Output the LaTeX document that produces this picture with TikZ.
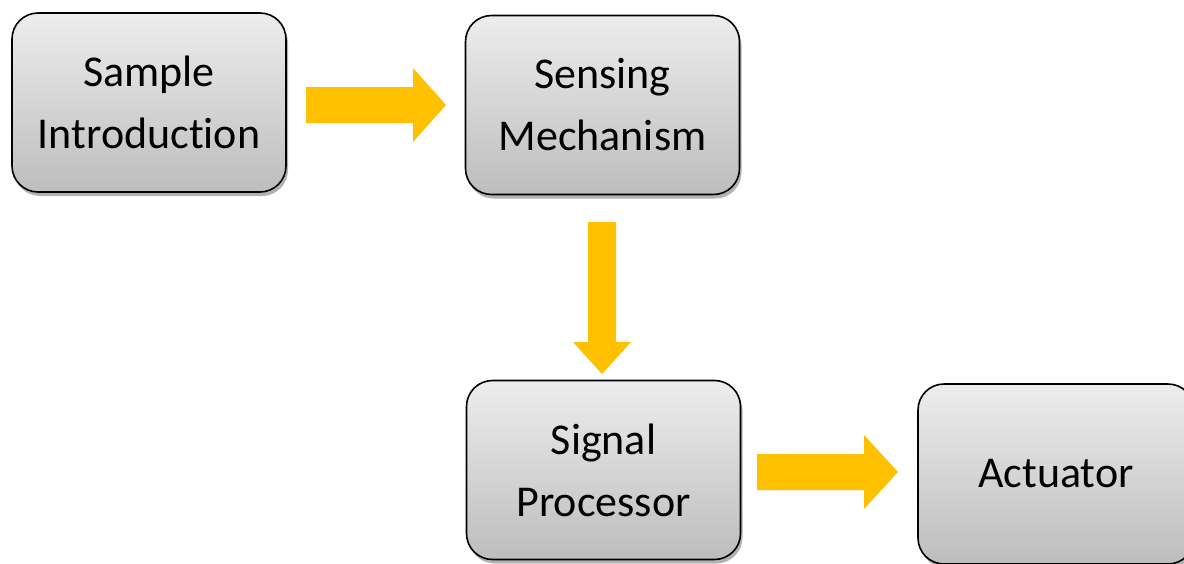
\documentclass[tikz,border=0pt]{standalone}
\usepackage{fontspec}
\setmainfont{Carlito}[Ligatures=NoCommon]
\usetikzlibrary{shadows}
\definecolor{arrowyellow}{HTML}{FFC000}
\definecolor{boxtop}{HTML}{EDEDED}
\definecolor{boxbot}{HTML}{BDBDBD}
\tikzset{
  stagebox/.style={draw=black, line width=1.6pt, rounded corners=26pt,
    top color=boxtop, bottom color=boxbot,
    minimum width=274pt, minimum height=179pt, inner sep=0pt,
    align=center, font=\fontsize{44}{62}\selectfont,
    drop shadow={shadow xshift=2pt, shadow yshift=-4pt, opacity=0.3, fill=black}},
  blockarrow/.style={fill=arrowyellow, draw=none}
}
\begin{document}
\begin{tikzpicture}[x=1pt,y=-1pt]
\useasboundingbox (0,0) rectangle (1184,563);
\node[stagebox] (sample) at (149,102.5) {Sample\\Introduction};
\node[stagebox] (sensing) at (602.5,105) {Sensing\\Mechanism};
\node[stagebox] (signal) at (603.5,470) {Signal\\Processor};
\node[stagebox, minimum width=276pt, minimum height=180pt] (act) at (1056,474) {Actuator};
% arrow sample -> sensing
\fill[blockarrow] (306,87) -- (413,87) -- (413,68) -- (446,105) -- (413,142) -- (413,123) -- (306,123) -- cycle;
% arrow sensing -> signal
\fill[blockarrow] (588,222) -- (616,222) -- (616,342) -- (631,342) -- (602,374) -- (573,342) -- (588,342) -- cycle;
% arrow signal -> actuator
\fill[blockarrow] (757,454) -- (864,454) -- (864,435) -- (898,472) -- (864,509) -- (864,490) -- (757,490) -- cycle;
\end{tikzpicture}
\end{document}
